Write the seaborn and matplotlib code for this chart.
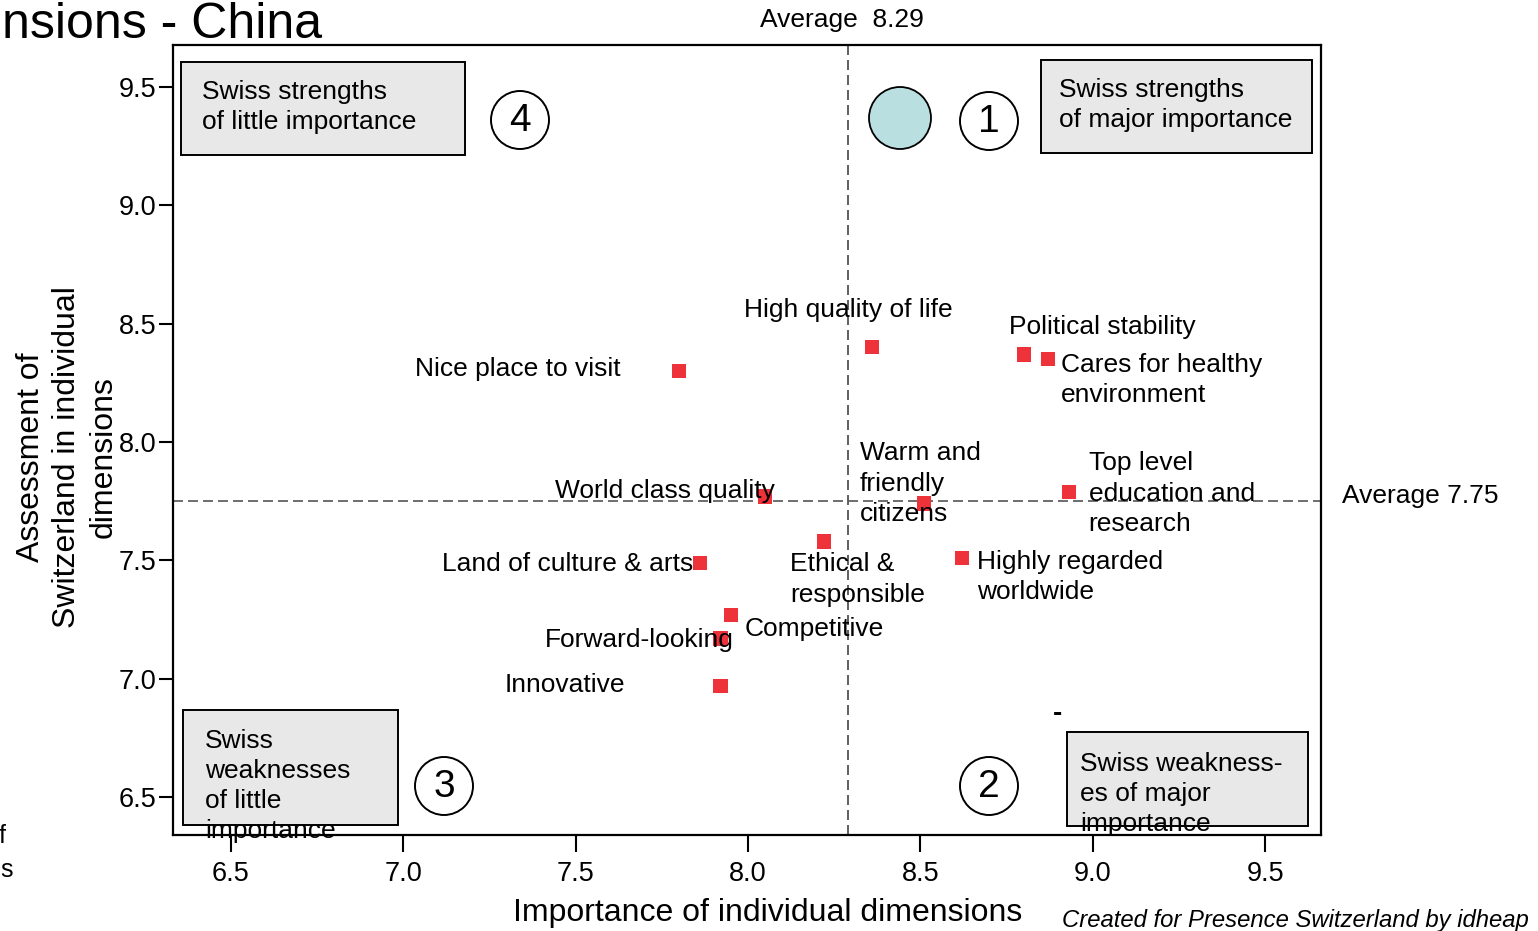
import matplotlib
matplotlib.use("Agg")
import matplotlib.pyplot as plt
from matplotlib.patches import Rectangle, Ellipse
import seaborn as sns
import pandas as pd

# ---------------- data ----------------
dimensions = ["Nice place to visit", "High quality of life", "Political stability",
              "Cares for healthy\nenvironment", "Top level\neducation and\nresearch",
              "Warm and\nfriendly\ncitizens", "World class quality", "Ethical &\nresponsible",
              "Highly regarded\nworldwide", "Land of culture & arts", "Competitive",
              "Forward-looking", "Innovative"]
importance = [7.80, 8.36, 8.80, 8.87, 8.93, 8.51, 8.05, 8.22, 8.62, 7.86, 7.95, 7.92, 7.92]
assessment = [8.30, 8.40, 8.37, 8.35, 7.79, 7.74, 7.77, 7.58, 7.51, 7.49, 7.27, 7.17, 6.97]
avg_importance = 8.29
avg_assessment = 7.75
x_ticks = [6.5, 7.0, 7.5, 8.0, 8.5, 9.0, 9.5]
y_ticks = [6.5, 7.0, 7.5, 8.0, 8.5, 9.0, 9.5]

df = pd.DataFrame({"dimension": dimensions, "importance": importance, "assessment": assessment})

# label offsets in pixels (dx, dy, ha)
label_pos = [(-58, 2, "right"), (-24, 37, "center"), (-15, 27, "left"),
             (13, -21, "left"), (20, -2, "left"), (-64, 20, "left"),
             (10, 5, "right"), (-34, -38, "left"), (15, -19, "left"),
             (-7, -1, "right"), (14, -14, "left"), (13, -1, "right"),
             (-95, 1, "right")]

W, H = 1538, 931
sns.set_theme(style="ticks")
plt.rcParams["font.family"] = ["Liberation Sans", "DejaVu Sans"]
plt.rcParams["text.color"] = "black"
plt.rcParams["axes.labelcolor"] = "black"
plt.rcParams["xtick.color"] = "black"
plt.rcParams["ytick.color"] = "black"

FS = 19
LS = 1.33

fig = plt.figure(figsize=(W / 100, H / 100), dpi=100)
ax = fig.add_axes([173 / W, 1 - 835 / H, (1321 - 173) / W, (835 - 45) / H])


def fx(x):
    return x / W


def fy(y):
    return 1 - y / H


sns.scatterplot(data=df, x="importance", y="assessment", marker="s", s=105,
                color="#EE3239", edgecolor="none", ax=ax, zorder=5)

ax.set_xlim(6.332, 9.662)
ax.set_ylim(6.34, 9.677)
ax.set_xticks(x_ticks)
ax.set_yticks(y_ticks)
ax.set_xticklabels([f"{v:.1f}" for v in x_ticks])
ax.set_yticklabels([f"{v:.1f}" for v in y_ticks])
ax.tick_params(axis="both", labelsize=19.5, color="black", width=1.5, length=10, labelcolor="black")
ax.tick_params(axis="x", pad=7, length=12)
ax.tick_params(axis="y", pad=2)
ax.set_xlabel("")
ax.set_ylabel("")
for sp in ax.spines.values():
    sp.set_visible(True)
    sp.set_color("black")
    sp.set_linewidth(1.6)

ax.axvline(avg_importance, color="#444444", lw=1.2, ls=(0, (6, 3)), zorder=2)
ax.axhline(avg_assessment, color="#555555", lw=1.2, ls=(0, (6, 3)), zorder=2)

# point labels
for (dim, xi, yi), (dx, dy, ha) in zip(zip(dimensions, importance, assessment), label_pos):
    ax.annotate(dim, (xi, yi), xytext=(dx, dy), textcoords="offset pixels",
                ha=ha, va="center", fontsize=FS, linespacing=LS, color="black", zorder=6)

# average labels
fig.text(fx(760), fy(20), f"Average  {avg_importance:.2f}", fontsize=19, ha="left", va="center")
fig.text(fx(1342), fy(496), f"Average {avg_assessment:.2f}", fontsize=19, ha="left", va="center")

# quadrant boxes
boxes = [((181, 62, 465, 155), "Swiss strengths\nof little importance", (202, 107)),
         ((1041, 60, 1312, 153), "Swiss strengths\nof major importance", (1059, 105)),
         ((183, 710, 398, 825), "Swiss\nweaknesses\nof little\nimportance", (205, 786)),
         ((1067, 732, 1308, 826), "Swiss weakness-\nes of major\nimportance", (1080, 794))]
for (x0, y0, x1, y1), txt, (tx, ty) in boxes:
    fig.patches.append(Rectangle((fx(x0), fy(y1)), fx(x1 - x0), (y1 - y0) / H,
                                 transform=fig.transFigure, facecolor="#E8E8E8",
                                 edgecolor="black", lw=1.4, zorder=7))
    fig.text(fx(tx), fy(ty), txt, fontsize=FS, ha="left", va="center",
             linespacing=LS, zorder=8)

# numbered circles
for num, (cx, cy) in zip(["1", "2", "3", "4"], [(989, 121), (989, 786), (444, 786), (520, 120)]):
    fig.patches.append(Ellipse((fx(cx), fy(cy)), 58 / W, 58 / H, transform=fig.transFigure,
                               facecolor="white", edgecolor="black", lw=1.4, zorder=7))
    fig.text(fx(cx), fy(cy + 1), num, fontsize=28, ha="center", va="center", zorder=8)

fig.patches.append(Ellipse((fx(900), fy(118)), 62 / W, 62 / H, transform=fig.transFigure,
                           facecolor="#BADFE1", edgecolor="black", lw=1.3, zorder=7))

# stray tick marks
fig.text(fx(1057), fy(714), "-", fontsize=20, ha="center", va="center", fontweight="bold")

# title (its start is cut off in the original)
fig.text(fx(2), fy(38), "nsions - China", fontsize=36, ha="left", va="baseline")

# axis titles
fig.text(fx(768), fy(913), "Importance of individual dimensions", fontsize=23,
         ha="center", va="center")
fig.text(fx(67), fy(457), "Assessment of\nSwitzerland in individual\ndimensions", fontsize=23,
         ha="center", va="center", rotation=90, linespacing=1.28)

# left-edge remnants
fig.text(fx(6), fy(836), "f", fontsize=18, ha="right", va="center")
fig.text(fx(13), fy(870), "s", fontsize=18, ha="right", va="center")

# credit
fig.text(fx(1062), fy(920), "Created for Presence Switzerland by idheap", fontsize=17.2,
         ha="left", va="center", style="italic")

fig.savefig("out.png", dpi=100)
